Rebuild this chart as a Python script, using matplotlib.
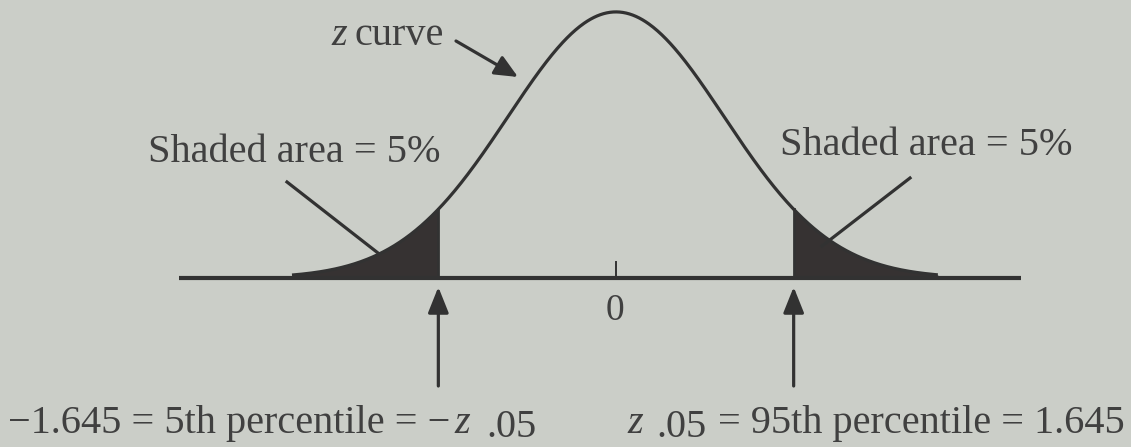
import numpy as np
import matplotlib
matplotlib.use("Agg")
import matplotlib.pyplot as plt

# Values shown on the chart
z_cut = 1.645          # 95th percentile of the standard normal
tail_pct = 5           # shaded area in each tail, percent
zero_tick = 0
curve_range = (-3.0, 2.98)
axis_range = (-4.05, 3.75)

BG = "#cbcec8"
INK = "#323232"
FILL = "#363232"
TXT = "#404040"

plt.rcParams["font.family"] = ["Liberation Serif", "DejaVu Serif"]

W, H = 1131, 447
fig = plt.figure(figsize=(W / 100, H / 100), dpi=100, facecolor=BG)
ax = fig.add_axes([0, 0, 1, 1], facecolor=BG)

# axis scale: ~108 px per z-unit, ~667 px per unit of density
X_PX, Y_PX, X0, Y0 = 108.0, 667.0, 616.0, 278.0
ax.set_xlim(-X0 / X_PX, (W - X0) / X_PX)
ax.set_ylim(-(H - Y0) / Y_PX, Y0 / Y_PX)
ax.axis("off")


def P(px, py):
    """pixel position -> data position"""
    return ((px - X0) / X_PX, (Y0 - py) / Y_PX)


def pdf(z):
    return np.exp(-0.5 * z ** 2) / np.sqrt(2 * np.pi)


z = np.linspace(*curve_range, 600)
ax.plot(z, pdf(z), color=INK, lw=2.3, solid_capstyle="butt", zorder=3)

# shaded tails
zl = np.linspace(curve_range[0], -z_cut, 200)
ax.fill_between(zl, 0, pdf(zl), color=FILL, lw=0, zorder=2)
ax.plot([-z_cut, -z_cut], [0, pdf(-z_cut)], color=INK, lw=2.0, zorder=3)
zr = np.linspace(z_cut, curve_range[1], 200)
ax.fill_between(zr, 0, pdf(zr), color=FILL, lw=0, zorder=2)
ax.plot([z_cut, z_cut], [0, pdf(z_cut)], color=INK, lw=2.0, zorder=3)

# horizontal axis and tick at 0
ax.plot(axis_range, [0, 0], color=INK, lw=3.0, solid_capstyle="butt", zorder=4)
ax.plot([zero_tick, zero_tick], [0, 16 / Y_PX], color=INK, lw=1.4, zorder=4)
ax.text(*P(615, 320), str(zero_tick), ha="center", va="baseline",
        fontsize=27, color=TXT)

# arrows pointing up at the cut points
arrow_style = dict(arrowstyle="-|>,head_length=1.05,head_width=0.42",
                   mutation_scale=15, color=INK, lw=2.3, shrinkA=0, shrinkB=0)
for c in (-z_cut, z_cut):
    ax.annotate("", xy=(c, P(0, 287)[1]), xytext=(c, P(0, 386)[1]),
                arrowprops=arrow_style)

FS = 29


def chain(prev, s, gap=0.0, dy=0.0, italic=False):
    """place text s right after the text artist prev"""
    return ax.annotate(s, xy=(1, 0), xycoords=prev, xytext=(gap, dy),
                       textcoords="offset points", ha="left", va="bottom",
                       fontsize=FS, color=TXT,
                       style="italic" if italic else "normal")


# "z curve" label and its arrow
t = ax.text(*P(331, 45), "z", fontsize=FS, color=TXT, style="italic",
            va="baseline")
chain(t, "curve", gap=6)
ax.annotate("", xy=P(518, 77), xytext=P(456, 41),
            arrowprops=dict(arrowstyle="-|>,head_length=1.0,head_width=0.45",
                            mutation_scale=14, color=INK, lw=2.3,
                            shrinkA=0, shrinkB=0))

# tail labels and pointer lines
ax.text(*P(148, 162), f"Shaded area = {tail_pct}%", fontsize=FS,
        color=TXT, va="baseline")
ax.plot(*zip(P(287, 182), P(378, 253)), color=INK, lw=2.3, zorder=5)
ax.text(*P(780, 155), f"Shaded area = {tail_pct}%", fontsize=FS,
        color=TXT, va="baseline")
ax.plot(*zip(P(910, 178), P(822, 246)), color=INK, lw=2.3, zorder=5)

# bottom labels
t = ax.text(*P(8, 433), f"\u2212{z_cut} = 5th percentile = \u2212",
            fontsize=FS, color=TXT, va="baseline")
t = chain(t, "z", gap=3, italic=True)
chain(t, ".05", gap=12, dy=-3)

t = ax.text(*P(627, 433), "z", fontsize=FS, color=TXT, style="italic",
            va="baseline")
t = chain(t, ".05", gap=10, dy=-3)
chain(t, f"= 95th percentile = {z_cut}", gap=8, dy=3)

fig.savefig("out.png", dpi=100, facecolor=BG)
